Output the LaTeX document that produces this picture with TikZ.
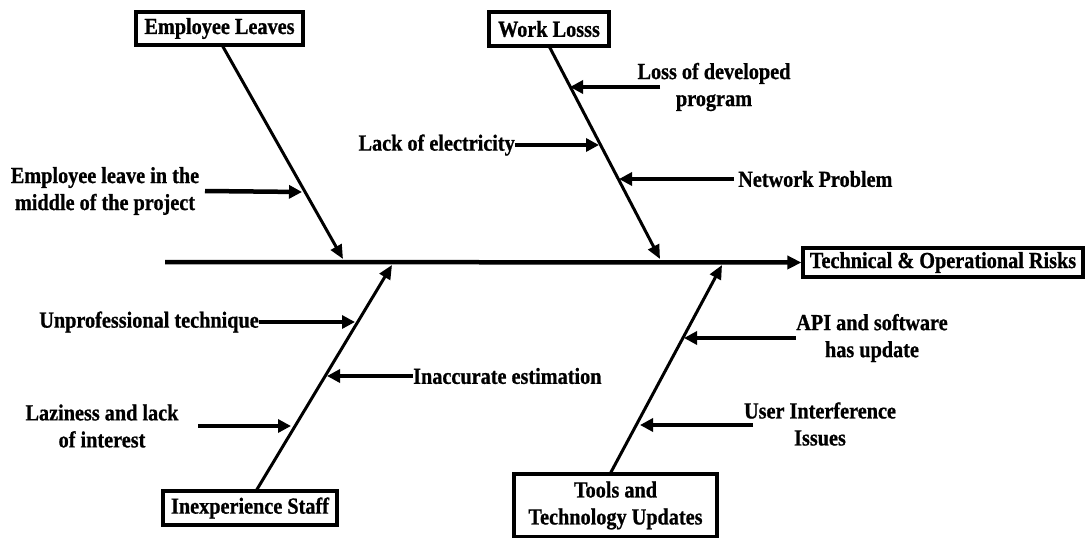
\documentclass[tikz,border=0pt]{standalone}
\usepackage{fontspec}
\setmainfont{Liberation Serif}[FakeStretch=0.88,BoldFeatures={FakeBold=0.8}]
\usetikzlibrary{arrows.meta}
\begin{document}
\begin{tikzpicture}[x=1pt,y=-1pt,
  lbl/.style={font=\bfseries\fontsize{23}{27}\selectfont, align=center, inner sep=0pt},
  catbox/.style={lbl, draw, line width=3.2pt, fill=white},
  bone/.style={line width=3pt, -{Triangle[length=14pt,width=12pt]}},
  spine/.style={line width=4.5pt, -{Triangle[length=14pt,width=13pt]}},
  sub/.style={line width=4.5pt, -{Triangle[length=13pt,width=13pt]}}]
\useasboundingbox (0,0) rectangle (1087,538);
% spine and effect
\node[catbox, minimum width=280pt, minimum height=29pt] (eff) at (943,262.5) {Technical \& Operational Risks};
\coordinate (tail) at (165,262);
\draw[spine] (tail) -- (eff.west);
% category boxes
\node[catbox, minimum width=167pt, minimum height=33pt] (el) at (219.5,28.5) {Employee Leaves};
\node[catbox, minimum width=120pt, minimum height=34pt] (wl) at (549,29) {Work Losss};
\node[catbox, minimum width=174pt, minimum height=34pt] (is) at (250,508) {Inexperience Staff};
\node[catbox, minimum width=203pt, minimum height=63pt] (tt) at (615.5,505.5) {Tools and\\Technology Updates};
% bone endpoints
\coordinate (elt) at (222,45);
\coordinate (elh) at (343,259);
\coordinate (wlt) at (549,46);
\coordinate (wlh) at (660,259);
\coordinate (ist) at (256,491);
\coordinate (ish) at (392,265);
\coordinate (ttt) at (610,474);
\coordinate (tth) at (722,265);
\draw[bone] (elt) -- (elh);
\draw[bone] (wlt) -- (wlh);
\draw[bone] (ist) -- (ish);
\draw[bone] (ttt) -- (tth);
% causes
\node[lbl] (c1) at (105,191) {Employee leave in the\\middle of the project};
\coordinate (c1s) at (205,191);
\coordinate (c1h) at (302,192);
\draw[sub] (c1s) -- (c1h);

\node[lbl, anchor=east] (c2) at (515,145) {Lack of electricity};
\coordinate (c2h) at (599,145);
\draw[sub] (c2.east) -- (c2h);

\node[lbl] (c3) at (714,87) {Loss of developed\\program};
\coordinate (c3s) at (660,87);
\coordinate (c3h) at (570,87);
\draw[sub] (c3s) -- (c3h);

\node[lbl, anchor=west] (c4) at (738,179) {Network Problem};
\coordinate (c4s) at (734,179);
\coordinate (c4h) at (619,179);
\draw[sub] (c4s) -- (c4h);

\node[lbl, anchor=east] (c5) at (259,322) {Unprofessional technique};
\coordinate (c5h) at (355,322);
\draw[sub] (c5.east) -- (c5h);

\node[lbl, anchor=west] (c6) at (413,376) {Inaccurate estimation};
\coordinate (c6h) at (327,376);
\draw[sub] (c6.west) -- (c6h);

\node[lbl] (c7) at (102,426) {Laziness and lack\\of interest};
\coordinate (c7s) at (198,426);
\coordinate (c7h) at (291,426);
\draw[sub] (c7s) -- (c7h);

\node[lbl] (c8) at (872,338) {API and software\\has update};
\coordinate (c8s) at (796,338);
\coordinate (c8h) at (684,338);
\draw[sub] (c8s) -- (c8h);

\node[lbl] (c9) at (820,424) {User Interference\\Issues};
\coordinate (c9s) at (753,425);
\coordinate (c9h) at (640,425);
\draw[sub] (c9s) -- (c9h);
\end{tikzpicture}
\end{document}
